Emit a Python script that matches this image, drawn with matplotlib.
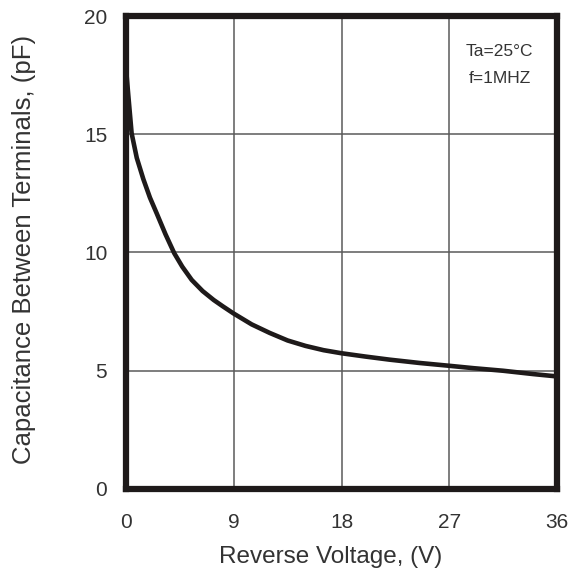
import matplotlib
matplotlib.use("Agg")
import matplotlib.pyplot as plt

# curve (reverse voltage V, capacitance pF)
voltage = [0, 0.2, 0.47, 0.9, 1.45, 2.0, 2.56, 3.3, 4.03, 4.7, 5.49, 6.4, 7.33, 8.1,
           8.96, 10.5, 12.0, 13.5, 15.0, 16.5, 18.0, 20.0, 22.0, 24.5, 27.0, 29.0,
           31.5, 34.0, 36.0]
capacitance = [17.8, 16.6, 15.04, 14.0, 13.1, 12.32, 11.66, 10.77, 9.97, 9.4, 8.84,
               8.37, 7.99, 7.72, 7.43, 6.96, 6.6, 6.28, 6.05, 5.87, 5.74, 5.6, 5.47,
               5.33, 5.21, 5.11, 5.0, 4.86, 4.76]
x_ticks = [0, 9, 18, 27, 36]
y_ticks = [0, 5, 10, 15, 20]

plt.rcParams['font.family'] = ['Liberation Sans', 'DejaVu Sans']
txt = "#333333"

fig = plt.figure(figsize=(5.68, 5.71), dpi=100)
ax = fig.add_axes([126 / 568, (571 - 489) / 571, 431 / 568, 473 / 571])

ax.plot(voltage, capacitance, color="#1e1a1a", lw=3.3, solid_capstyle="round",
        solid_joinstyle="round", zorder=3)

ax.set_xlim(0, 36)
ax.set_ylim(0, 20)
ax.set_xticks(x_ticks)
ax.set_yticks(y_ticks)
ax.grid(True, color="#5a5a5a", lw=1.1)
ax.set_axisbelow(True)
for s in ax.spines.values():
    s.set_linewidth(4.5)
    s.set_color("#1e1a1a")
    s.set_zorder(4)

ax.tick_params(length=0, labelsize=15, colors=txt, pad=13.5)
ax.tick_params(axis='x', pad=17)
ax.set_xlabel("Reverse Voltage, (V)", fontsize=17.5, color=txt, va="center")
ax.set_ylabel("Capacitance Between Terminals, (pF)", fontsize=18.5, color=txt, va="center")
# label spots (slightly off-centre on x)
ax.xaxis.set_label_coords(0.4745, -0.144)
ax.yaxis.set_label_coords(-0.236, 0.507)

ax.text(0.867, 0.924, "Ta=25°C", transform=ax.transAxes, ha="center", va="center",
        fontsize=12.5, color=txt)
ax.text(0.867, 0.867, "f=1MHZ", transform=ax.transAxes, ha="center", va="center",
        fontsize=12.5, color=txt)

fig.savefig("out.png", dpi=100)
